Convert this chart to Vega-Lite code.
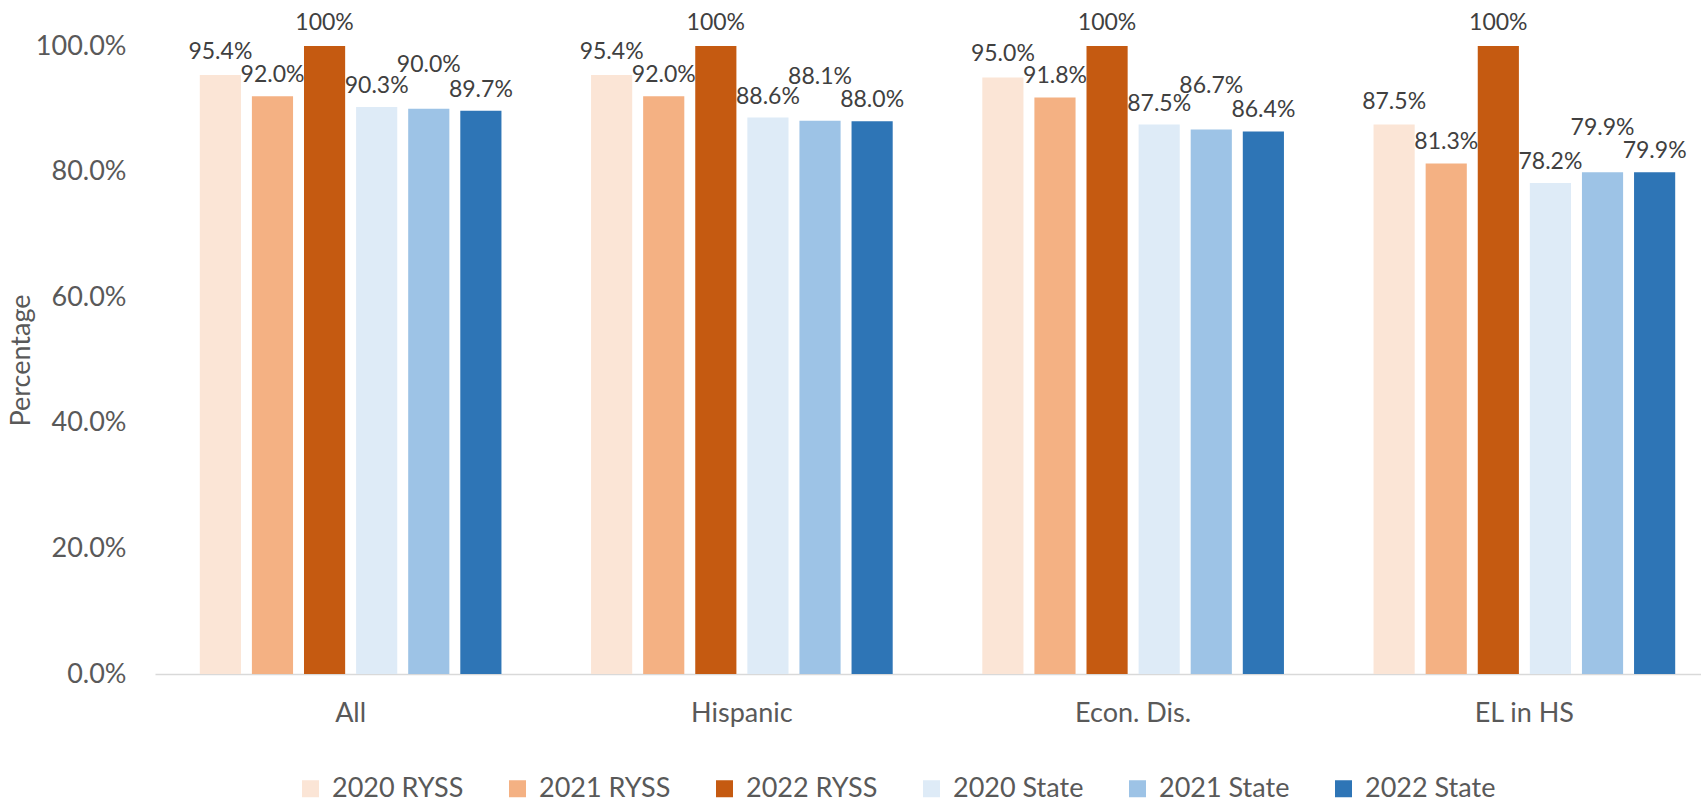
{
  "$schema": "https://vega.github.io/schema/vega-lite/v6.json",
  "width": 1546,
  "height": 628,
  "autosize": {"type": "none"},
  "padding": {"left": 155, "top": 46, "right": 0, "bottom": 128},
  "background": "white",
  "config": {
    "view": {"stroke": null},
    "font": "Lato",
    "text": {"font": "Lato", "color": "#404040"}
  },
  "data": {
    "values": [
      {"group": "All", "series": "2020 RYSS", "value": 0.954, "label": "95.4%"},
      {"group": "All", "series": "2021 RYSS", "value": 0.920, "label": "92.0%"},
      {"group": "All", "series": "2022 RYSS", "value": 1.000, "label": "100%"},
      {"group": "All", "series": "2020 State", "value": 0.903, "label": "90.3%"},
      {"group": "All", "series": "2021 State", "value": 0.900, "label": "90.0%"},
      {"group": "All", "series": "2022 State", "value": 0.897, "label": "89.7%"},
      {"group": "Hispanic", "series": "2020 RYSS", "value": 0.954, "label": "95.4%"},
      {"group": "Hispanic", "series": "2021 RYSS", "value": 0.920, "label": "92.0%"},
      {"group": "Hispanic", "series": "2022 RYSS", "value": 1.000, "label": "100%"},
      {"group": "Hispanic", "series": "2020 State", "value": 0.886, "label": "88.6%"},
      {"group": "Hispanic", "series": "2021 State", "value": 0.881, "label": "88.1%"},
      {"group": "Hispanic", "series": "2022 State", "value": 0.880, "label": "88.0%"},
      {"group": "Econ. Dis.", "series": "2020 RYSS", "value": 0.950, "label": "95.0%"},
      {"group": "Econ. Dis.", "series": "2021 RYSS", "value": 0.918, "label": "91.8%"},
      {"group": "Econ. Dis.", "series": "2022 RYSS", "value": 1.000, "label": "100%"},
      {"group": "Econ. Dis.", "series": "2020 State", "value": 0.875, "label": "87.5%"},
      {"group": "Econ. Dis.", "series": "2021 State", "value": 0.867, "label": "86.7%"},
      {"group": "Econ. Dis.", "series": "2022 State", "value": 0.864, "label": "86.4%"},
      {"group": "EL in HS", "series": "2020 RYSS", "value": 0.875, "label": "87.5%"},
      {"group": "EL in HS", "series": "2021 RYSS", "value": 0.813, "label": "81.3%"},
      {"group": "EL in HS", "series": "2022 RYSS", "value": 1.000, "label": "100%"},
      {"group": "EL in HS", "series": "2020 State", "value": 0.782, "label": "78.2%"},
      {"group": "EL in HS", "series": "2021 State", "value": 0.799, "label": "79.9%"},
      {"group": "EL in HS", "series": "2022 State", "value": 0.799, "label": "79.9%"}
    ]
  },
  "encoding": {
    "x": {
      "field": "group",
      "type": "nominal",
      "sort": ["All", "Hispanic", "Econ. Dis.", "EL in HS"],
      "scale": {"range": [0, 1565], "paddingInner": 0.229, "paddingOuter": 0.1145},
      "axis": {
        "title": null,
        "labelAngle": 0,
        "labelFontSize": 27,
        "labelColor": "#595959",
        "labelPadding": 26,
        "ticks": false,
        "domain": true,
        "domainColor": "#D9D9D9",
        "domainWidth": 1.5
      }
    },
    "xOffset": {
      "field": "series",
      "type": "nominal",
      "sort": ["2020 RYSS", "2021 RYSS", "2022 RYSS", "2020 State", "2021 State", "2022 State"],
      "scale": {"paddingInner": 0.21, "paddingOuter": 0}
    },
    "y": {
      "field": "value",
      "type": "quantitative",
      "scale": {"domain": [0, 1]},
      "axis": {
        "title": "Percentage",
        "titleFontSize": 27,
        "titleFontWeight": "normal",
        "titleColor": "#595959",
        "titleX": -134,
        "titleY": 314,
        "titleAngle": -90,
        "titleBaseline": "middle",
        "titleAlign": "center",
        "format": ".1%",
        "values": [0, 0.2, 0.4, 0.6, 0.8, 1.0],
        "labelFontSize": 27,
        "labelColor": "#595959",
        "labelPadding": 29,
        "ticks": false,
        "domain": false,
        "grid": false
      }
    }
  },
  "layer": [
    {
      "mark": {"type": "bar"},
      "encoding": {
        "color": {
          "field": "series",
          "type": "nominal",
          "sort": ["2020 RYSS", "2021 RYSS", "2022 RYSS", "2020 State", "2021 State", "2022 State"],
          "scale": {
            "domain": ["2020 RYSS", "2021 RYSS", "2022 RYSS", "2020 State", "2021 State", "2022 State"],
            "range": ["#FBE5D6", "#F4B183", "#C55A11", "#DEEBF7", "#9DC3E6", "#2E75B6"]
          },
          "legend": {
            "title": null,
            "orient": "none",
            "legendX": 142,
            "legendY": 729,
            "direction": "horizontal",
            "symbolType": "square",
            "symbolSize": 289,
            "symbolStrokeWidth": 0,
            "labelFontSize": 27,
            "labelColor": "#595959",
            "labelOffset": 8,
            "columnPadding": 40
          }
        }
      }
    },
    {
      "transform": [{"filter": "datum.series === '2020 RYSS' || datum.series === '2022 RYSS'"}],
      "mark": {"type": "text", "baseline": "alphabetic", "dy": -16, "fontSize": 23, "color": "#404040"},
      "encoding": {"text": {"field": "label"}}
    },
    {
      "transform": [{"filter": "datum.series === '2021 RYSS' || datum.series === '2020 State' || datum.series === '2022 State'"}],
      "mark": {"type": "text", "baseline": "alphabetic", "dy": -14, "fontSize": 23, "color": "#404040"},
      "encoding": {"text": {"field": "label"}}
    },
    {
      "transform": [{"filter": "datum.series === '2021 State'"}],
      "mark": {"type": "text", "baseline": "alphabetic", "dy": -37, "fontSize": 23, "color": "#404040"},
      "encoding": {"text": {"field": "label"}}
    }
  ]
}
